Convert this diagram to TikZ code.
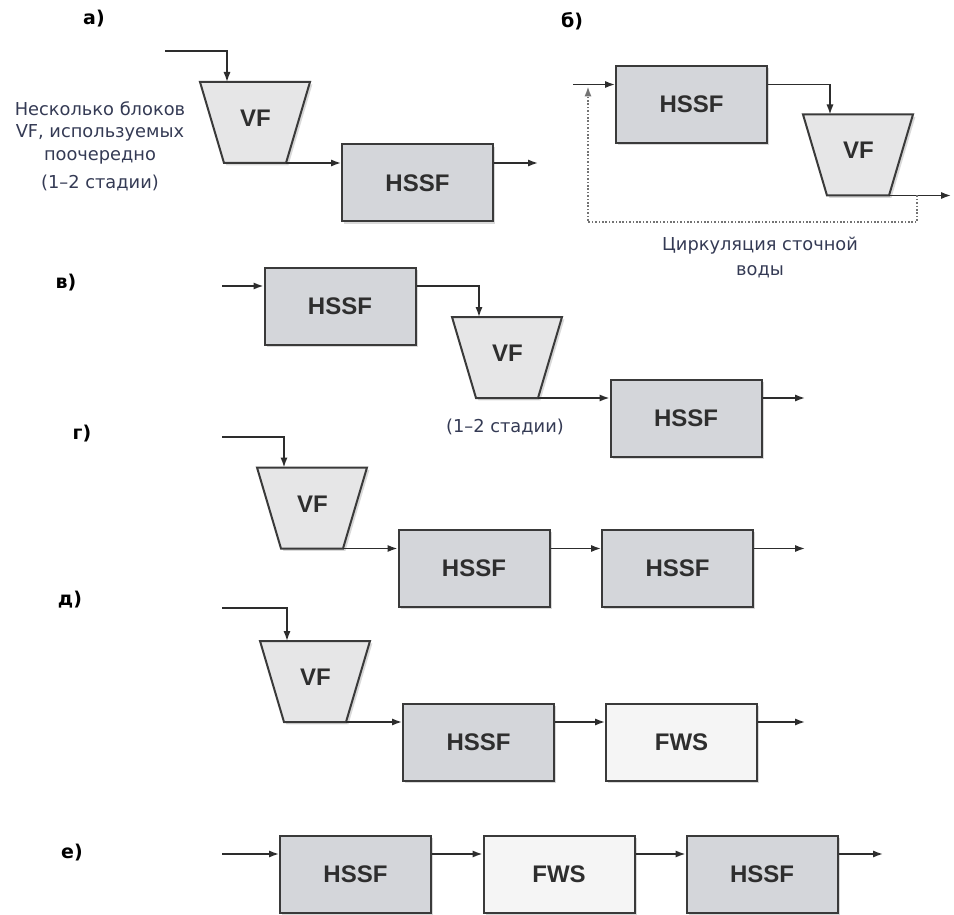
\documentclass[tikz,border=0pt]{standalone}
\usepackage{fontspec}
\setmainfont{DejaVu Sans}
\newfontfamily\boxfont{Liberation Sans}
\usetikzlibrary{shapes.geometric,arrows.meta,shadows}
\definecolor{hssfgray}{RGB}{212,214,218}
\definecolor{vfgray}{RGB}{230,230,231}
\definecolor{fwsgray}{RGB}{245,245,245}
\definecolor{edgegray}{RGB}{58,58,58}
\definecolor{linegray}{RGB}{45,45,45}
\definecolor{notecolor}{RGB}{52,58,84}

\begin{document}
\begin{tikzpicture}
    [
    x=0.5pt, y={(0pt,-0.5pt)},
    unit/.style={
      draw=edgegray,
      line width=1pt,
      drop shadow={shadow xshift=1.2pt, shadow yshift=-1.2pt, opacity=0.3},
      font=\boxfont\bfseries\fontsize{12}{14}\selectfont,
      text=black!82
    },
    hssf/.style={
      unit,
      rectangle,
      fill=hssfgray,
      minimum width=75.5pt,
      minimum height=38.5pt,
      inner sep=0pt
    },
    fws/.style={hssf, fill=fwsgray},
    vf/.style={
      unit,
      trapezium,
      shape border rotate=180,
      trapezium left angle=73.5,
      trapezium right angle=73.5,
      text width=15pt,
      align=center,
      text height=8.6pt,
      text depth=4.6pt,
      inner xsep=8pt,
      inner ysep=13.65pt,
      fill=vfgray
    },
    flow/.style={
      draw=linegray,
      line width=0.8pt,
      -{Latex[length=5pt,width=3.6pt]}
    },
    recycle/.style={flow, draw=black!55, dash pattern=on 0.8pt off 0.9pt, line width=0.8pt},
    panel/.style={font=\bfseries\fontsize{9.5}{11}\selectfont},
    note/.style={
      text=notecolor,
      align=center,
      font=\fontsize{8.9}{11.3}\selectfont
    }
    ]
    \useasboundingbox (0,0) rectangle (954,915);

    % a)
    \node (laba) at (94,19) [panel] {а)};
    \node (vfa) at (255,122.5) [vf] {VF};
    \node (hssfa) at (417.5,183) [hssf] {HSSF};
    \node (notea) at (100,146) [note] {Несколько блоков\\VF, используемых\\поочередно\\[2.5pt](1–2 стадии)};
    \coordinate (ina) at (165,51);
    \coordinate (vfa-in) at ([shift={(-14pt,20.25pt)}]vfa.center);
    \coordinate (vfa-out) at ([shift={(15.5pt,-20.25pt)}]vfa.center);
    \coordinate (outa) at (538,163);
    \draw[flow] (ina) -| (vfa-in);
    \draw[flow] (vfa-out) -- (vfa-out -| hssfa.west);
    \draw[flow] ([yshift=10pt]hssfa.east) -- (outa);

    % b)
    \node (labb) at (572,21) [panel] {б)};
    \node (hssfb) at (691.5,104.5) [hssf] {HSSF};
    \node (vfb) at (858,155) [vf] {VF};
    \node (noteb) at (760,257) [note, font=\fontsize{8.9}{12.5}\selectfont] {Циркуляция сточной\\воды};
    \coordinate (inb) at (573,84.5);
    \coordinate (vfb-in) at ([shift={(-14pt,20.25pt)}]vfb.center);
    \coordinate (vfb-out) at ([shift={(15.5pt,-20.25pt)}]vfb.center);
    \coordinate (outb) at (951,195.5);
    \coordinate (recb1) at (917,195.5);
    \coordinate (recb2) at (588,222);
    \coordinate (recb3) at (588,86.5);
    \draw[flow] (inb) -- ([yshift=10pt]hssfb.west);
    \draw[flow] ([yshift=10pt]hssfb.east) -| (vfb-in);
    \draw[flow] (vfb-out) -- (outb);
    \draw[recycle] (recb1) |- (recb2) -- (recb3);

    % v)
    \node (labv) at (66,283) [panel] {в)};
    \node (hssfv1) at (340,306) [hssf] {HSSF};
    \node (vfv) at (507,357.5) [vf] {VF};
    \node (hssfv2) at (686,418) [hssf] {HSSF};
    \node (notev) at (505,427) [note] {(1–2 стадии)};
    \coordinate (inv) at (222,286);
    \coordinate (vfv-in) at ([shift={(-14pt,20.25pt)}]vfv.center);
    \coordinate (vfv-out) at ([shift={(15.5pt,-20.25pt)}]vfv.center);
    \coordinate (outv) at (805,398);
    \draw[flow] (inv) -- ([yshift=10pt]hssfv1.west);
    \draw[flow] ([yshift=10pt]hssfv1.east) -| (vfv-in);
    \draw[flow] (vfv-out) -- (vfv-out -| hssfv2.west);
    \draw[flow] ([yshift=10pt]hssfv2.east) -- (outv);

    % g)
    \node (labg) at (82,434) [panel] {г)};
    \node (vfg) at (312,508) [vf] {VF};
    \node (hssfg1) at (474,568.5) [hssf] {HSSF};
    \node (hssfg2) at (677.5,568.5) [hssf] {HSSF};
    \coordinate (ing) at (222,437);
    \coordinate (vfg-in) at ([shift={(-14pt,20.25pt)}]vfg.center);
    \coordinate (vfg-out) at ([shift={(15.5pt,-20.25pt)}]vfg.center);
    \coordinate (outg) at (805,548.5);
    \draw[flow] (ing) -| (vfg-in);
    \draw[flow] (vfg-out) -- (vfg-out -| hssfg1.west);
    \draw[flow] ([yshift=10pt]hssfg1.east) -- ([yshift=10pt]hssfg2.west);
    \draw[flow] ([yshift=10pt]hssfg2.east) -- (outg);

    % d)
    \node (labd) at (70,600) [panel] {д)};
    \node (vfd) at (315,681.5) [vf] {VF};
    \node (hssfd) at (478.5,742) [hssf] {HSSF};
    \node (fwsd) at (681.5,742) [fws] {FWS};
    \coordinate (ind) at (222,608);
    \coordinate (vfd-in) at ([shift={(-14pt,20.25pt)}]vfd.center);
    \coordinate (vfd-out) at ([shift={(15.5pt,-20.25pt)}]vfd.center);
    \coordinate (outd) at (805,722);
    \draw[flow] (ind) -| (vfd-in);
    \draw[flow] (vfd-out) -- (vfd-out -| hssfd.west);
    \draw[flow] ([yshift=10pt]hssfd.east) -- ([yshift=10pt]fwsd.west);
    \draw[flow] ([yshift=10pt]fwsd.east) -- (outd);

    % e)
    \node (labe) at (72,853) [panel] {е)};
    \node (hssfe1) at (355.5,874) [hssf] {HSSF};
    \node (fwse) at (559,874) [fws] {FWS};
    \node (hssfe2) at (762,874) [hssf] {HSSF};
    \coordinate (ine) at (222,854);
    \coordinate (oute) at (883,854);
    \draw[flow] (ine) -- ([yshift=10pt]hssfe1.west);
    \draw[flow] ([yshift=10pt]hssfe1.east) -- ([yshift=10pt]fwse.west);
    \draw[flow] ([yshift=10pt]fwse.east) -- ([yshift=10pt]hssfe2.west);
    \draw[flow] ([yshift=10pt]hssfe2.east) -- (oute);
  \end{tikzpicture}
\end{document}
